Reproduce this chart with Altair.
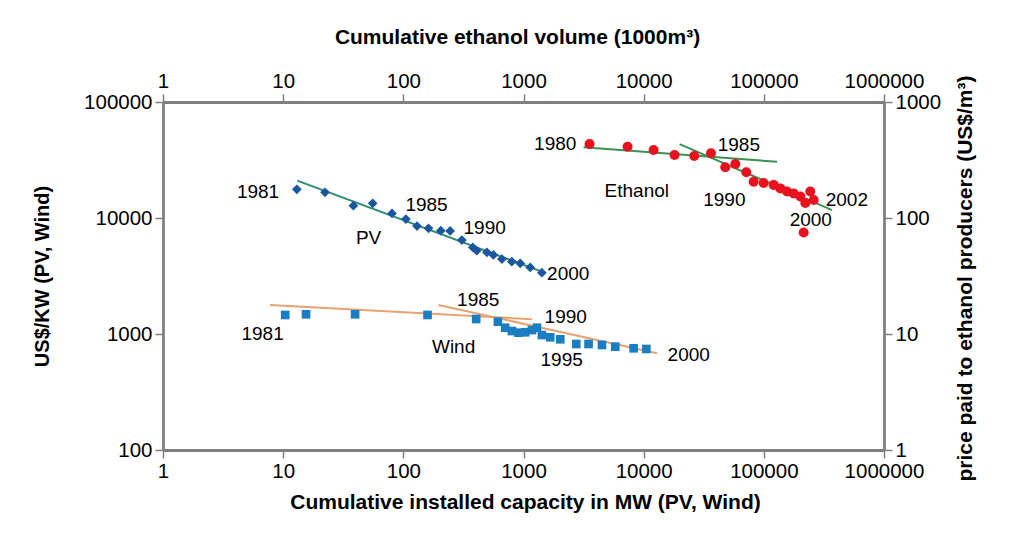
import altair as alt
import pandas as pd

# ---------------- data ----------------
# PV: cumulative installed capacity (MW) vs US$/kW, 1981-2000
pv_x = [13.0, 22.3, 38.4, 55.6, 80.5, 105, 130, 162, 205, 245,
        307, 379, 409, 496, 562, 661, 800, 939, 1138, 1422]
pv_y = [17670, 16670, 12770, 13390, 10960, 9800, 8530, 8150, 7780, 7730,
        6460, 5580, 5220, 5060, 4800, 4430, 4200, 4070, 3750, 3380]
pv_fit_x = [13.1, 1422]
pv_fit_y = [20990, 3445]

# Wind: cumulative installed capacity (MW) vs US$/kW, 1981-2000
wind_x = [10.4, 15.5, 39.7, 159, 404, 612, 704, 800, 908, 1033,
          1175, 1294, 1422, 1668, 2022, 2749, 3478, 4497, 5804, 8248, 10520]
wind_y = [1459, 1479, 1479, 1459, 1346, 1277, 1133, 1061, 1026, 1035,
          1081, 1133, 980, 937, 900, 820, 820, 804, 778, 753, 743]
wind_fit_seg = ["a", "a", "b", "b"]
wind_fit_x = [7.78, 1175, 196, 12900]
wind_fit_y = [1778, 1339, 1778, 682]

# Ethanol: cumulative volume (1000 m3) vs price paid to producers (US$/m3), 1980-2002
eth_x = [3545, 7345, 12090, 18070, 26370, 36310, 47770, 57890, 71480, 82200,
         99600, 120700, 137200, 156000, 177000, 201400, 221500, 243600, 260000, 214500]
eth_y = [434, 412, 386, 349, 342, 361, 274, 292, 248, 205,
         200, 193, 180, 169, 163, 153, 135, 169, 143, 75]
eth_fit_seg = ["a", "a", "b", "b"]
eth_fit_x = [3162, 128800, 19900, 370000]
eth_fit_y = [407, 305, 434, 117]

# annotations
left_lab_text = ["1981", "1985", "1990", "PV", "2000",
                 "1985", "1990", "1981", "Wind", "1995", "2000"]
left_lab_x = [6.18, 156, 475, 51.4, 2355,
              420, 2245, 6.74, 262, 2077, 23730]
left_lab_y = [16920, 13070, 8120, 6660, 3260,
              1983, 1402, 991, 765, 591, 653]

eth_lab_text = ["1980", "1985", "Ethanol", "1990", "2002", "2000"]
eth_lab_x = [1837, 61940, 8770, 46900, 491000, 246000]
eth_lab_y = [438, 430, 172.6, 144, 144, 97]

x_ticks = [1, 10, 100, 1000, 10000, 100000, 1000000]
left_ticks = [100, 1000, 10000, 100000]
right_ticks = [1, 10, 100, 1000]

# ---------------- tables ----------------
pv = pd.DataFrame({"x": pv_x, "y": pv_y})
pv_fit = pd.DataFrame({"x": pv_fit_x, "y": pv_fit_y})
wind = pd.DataFrame({"x": wind_x, "y": wind_y})
wind_fit = pd.DataFrame({"seg": wind_fit_seg, "x": wind_fit_x, "y": wind_fit_y})
eth = pd.DataFrame({"x": eth_x, "y": eth_y})
eth_fit = pd.DataFrame({"seg": eth_fit_seg, "x": eth_fit_x, "y": eth_fit_y})
left_lab = pd.DataFrame({"t": left_lab_text, "x": left_lab_x, "y": left_lab_y})
eth_lab = pd.DataFrame({"t": eth_lab_text, "x": eth_lab_x, "y": eth_lab_y})

FONT = "Liberation Sans"
AX_COL = "#7f7f7f"


def axis_style(title_size):
    return dict(
        grid=False, domainColor=AX_COL, domainWidth=2.8, tickColor=AX_COL,
        tickWidth=1.5, tickSize=8, labelFont=FONT, labelFontSize=20.5,
        labelColor="black", labelPadding=3, titleFont=FONT,
        titleFontSize=title_size, titleFontWeight="bold", titleColor="black",
        format="d", labelOverlap=False, labelFlush=False,
    )


xb_scale = alt.Scale(type="log", domain=[1, 1000000])
yl_scale = alt.Scale(type="log", domain=[100, 100000])
xt_scale = alt.Scale(type="log", domain=[1, 1000000])
yr_scale = alt.Scale(type="log", domain=[1, 1000])

xb_axis = alt.Axis(orient="bottom", values=x_ticks,
                   title="Cumulative installed capacity in MW (PV, Wind)",
                   titleX=362, titleY=52, titleBaseline="middle",
                   titleAlign="center", **axis_style(21))
yl_axis = alt.Axis(orient="left", values=left_ticks,
                   title="US$/KW (PV, Wind)", titleAngle=-90,
                   titleX=-121, titleY=174, titleBaseline="middle",
                   titleAlign="center", **axis_style(20))
xt_axis = alt.Axis(orient="top", values=x_ticks,
                   title="Cumulative ethanol volume (1000m³)",
                   titleX=354, titleY=-65, titleBaseline="middle",
                   titleAlign="center", **axis_style(21))
yr_axis = alt.Axis(orient="right", values=right_ticks,
                   title="price paid to ethanol producers (US$/m³)",
                   titleAngle=-90, titleX=81, titleY=176,
                   titleBaseline="middle", titleAlign="center", **axis_style(21))

XB = alt.X("x:Q", scale=xb_scale, axis=xb_axis)
YL = alt.Y("y:Q", scale=yl_scale, axis=yl_axis)
XT = alt.X("x:Q", scale=xt_scale, axis=xt_axis)
YR = alt.Y("y:Q", scale=yr_scale, axis=yr_axis)

# ---------------- left/bottom group ----------------
pv_line = alt.Chart(pv_fit).mark_line(color="#2e8c74", strokeWidth=2).encode(x=XB, y=YL)
pv_pts = alt.Chart(pv).mark_point(shape="diamond", filled=True, size=95,
                                  color="#1b56a0", opacity=1).encode(x=XB, y=YL)
wind_line = alt.Chart(wind_fit).mark_line(color="#e8a272", strokeWidth=2).encode(
    x=XB, y=YL, detail="seg:N")
wind_pts = alt.Chart(wind).mark_square(size=75, color="#1b7ec2", opacity=1).encode(x=XB, y=YL)
left_text = alt.Chart(left_lab).mark_text(font=FONT, fontSize=19, color="black",
                                          align="center", baseline="middle").encode(
    x=XB, y=YL, text="t:N")
left_group = alt.layer(pv_line, pv_pts, wind_line, wind_pts, left_text)

# ---------------- top/right group (ethanol) ----------------
eth_line = alt.Chart(eth_fit).mark_line(color="#3a9152", strokeWidth=2).encode(
    x=XT, y=YR, detail="seg:N")
eth_pts = alt.Chart(eth).mark_circle(size=100, color="#e8121f", opacity=1).encode(x=XT, y=YR)
eth_text = alt.Chart(eth_lab).mark_text(font=FONT, fontSize=19, color="black",
                                        align="center", baseline="middle").encode(
    x=XT, y=YR, text="t:N")
eth_group = alt.layer(eth_line, eth_pts, eth_text)

chart = alt.layer(left_group, eth_group).resolve_scale(
    x="independent", y="independent"
).properties(
    width=721, height=348,
    autosize=alt.AutoSizeParams(type="none"),
    padding={"left": 155, "top": 94, "right": 110, "bottom": 75},
    background="white",
).configure_view(stroke=None)

chart.save("out.html", embed_options={"renderer": "svg", "actions": False})
